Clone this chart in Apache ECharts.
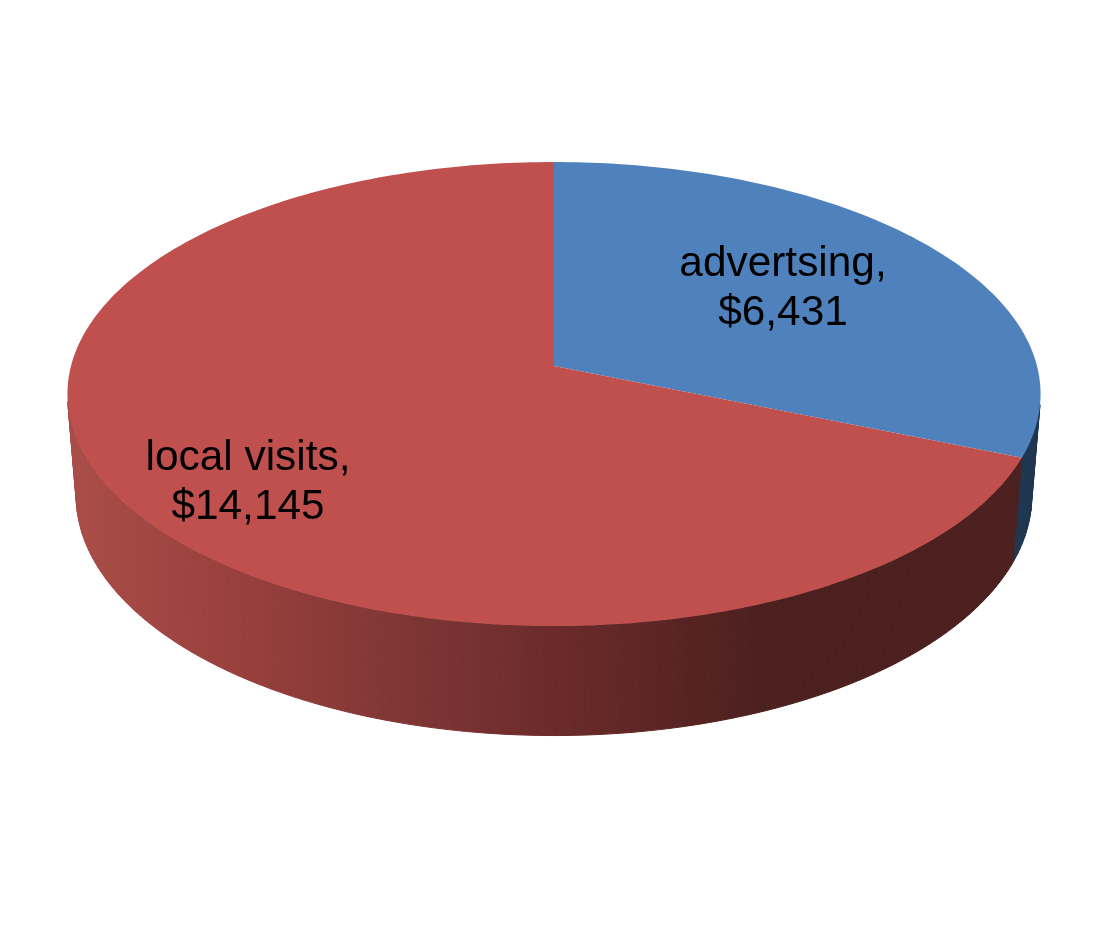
<!DOCTYPE html>
<html>
<head>
<meta charset="utf-8">
<style>
  html, body { margin: 0; padding: 0; background: #fff; }
  #chart { width: 1108px; height: 933px; }
</style>
<script src="https://cdn.jsdelivr.net/npm/echarts@6/dist/echarts.min.js"></script>
</head>
<body>
<div id="chart"></div>
<script>
// Revenue split
const sliceNames = ['advertsing', 'local visits'];
const sliceValues = [6431, 14145];

const topColors = ['#4F81BD', '#C0504D'];
const labelCentres = [[783, 289], [248, 483]];

// Projection of the tilted disc: apex position, radii and perspective terms
const apexX = 554, apexY = 366;
const radiusX = 483, radiusY = 228.6, tilt = 0.1207;
const dropY = 103, dropW = 0.018;
const arcStep = Math.PI / 180;

const total = sliceValues.reduce((a, b) => a + b, 0);

function sliceAngles(index) {
  let before = 0;
  for (let i = 0; i < index; i++) before += sliceValues[i];
  const start = before / total * Math.PI * 2;
  return [start, start + sliceValues[index] / total * Math.PI * 2];
}

// level 0 is the rim of the top face, level 1 the rim of the bottom face
function project(angle, level) {
  const u = Math.sin(angle), v = -Math.cos(angle);
  const w = 1 - tilt * v + level * dropW;
  return [
    apexX + radiusX * u / w,
    apexY + (radiusY * v + level * dropY) / w
  ];
}

function rimAngles(a0, a1) {
  const n = Math.max(2, Math.ceil((a1 - a0) / arcStep));
  const out = [];
  for (let i = 0; i <= n; i++) out.push(a0 + (a1 - a0) * i / n);
  return out;
}

const sideFills = [
  () => '#1E3650',
  () => new echarts.graphic.LinearGradient(78, 0, 1032, 0, [
    { offset: 0, color: '#A94C47' },
    { offset: 0.18, color: '#973F3C' },
    { offset: 0.34, color: '#7F3635' },
    { offset: 0.50, color: '#6B2B2A' },
    { offset: 0.65, color: '#562322' },
    { offset: 0.72, color: '#4C201F' },
    { offset: 1, color: '#4C201F' }
  ], true)
];

function renderSide(params) {
  const [a0, a1] = sliceAngles(params.dataIndex);
  const angles = rimAngles(a0, a1);
  const fill = sideFills[params.dataIndex]();
  const children = [];
  for (let i = 0; i < angles.length - 1; i++) {
    const p0 = project(angles[i], 0), p1 = project(angles[i + 1], 0);
    const q0 = project(angles[i], 1), q1 = project(angles[i + 1], 1);
    // Rim segments that face away from the viewer stay hidden under the top face
    const facing = (p1[0] - p0[0]) * (q0[1] - p0[1]) - (p1[1] - p0[1]) * (q0[0] - p0[0]);
    if (facing >= 0) continue;
    children.push({
      type: 'polygon',
      shape: { points: [p0, p1, q1, q0] },
      style: { fill: fill, stroke: fill, lineWidth: 1 },
      silent: true
    });
  }
  return { type: 'group', children };
}

function renderTop(params) {
  const i = params.dataIndex;
  const [a0, a1] = sliceAngles(i);
  const points = [[apexX, apexY]].concat(rimAngles(a0, a1).map(a => project(a, 0)));
  return {
    type: 'group',
    children: [
      { type: 'polygon', shape: { points }, style: { fill: topColors[i] }, z2: 1 },
      {
        type: 'text',
        z2: 5,
        style: {
          x: labelCentres[i][0],
          y: labelCentres[i][1],
          text: sliceNames[i] + ',\n$' + sliceValues[i].toLocaleString('en-US'),
          font: '42.4px "Liberation Sans", Arial, sans-serif',
          lineHeight: 49,
          fill: '#000',
          align: 'center',
          verticalAlign: 'middle'
        }
      }
    ]
  };
}

const chart = echarts.init(document.getElementById('chart'), null, { renderer: 'canvas' });
const seriesData = sliceValues.map((v, i) => ({ name: sliceNames[i], value: v }));
chart.setOption({
  animation: false,
  backgroundColor: '#ffffff',
  series: [
    { type: 'custom', coordinateSystem: 'none', z: 1, data: seriesData, renderItem: renderSide },
    { type: 'custom', coordinateSystem: 'none', z: 2, data: seriesData, renderItem: renderTop }
  ]
});
</script>
</body>
</html>
